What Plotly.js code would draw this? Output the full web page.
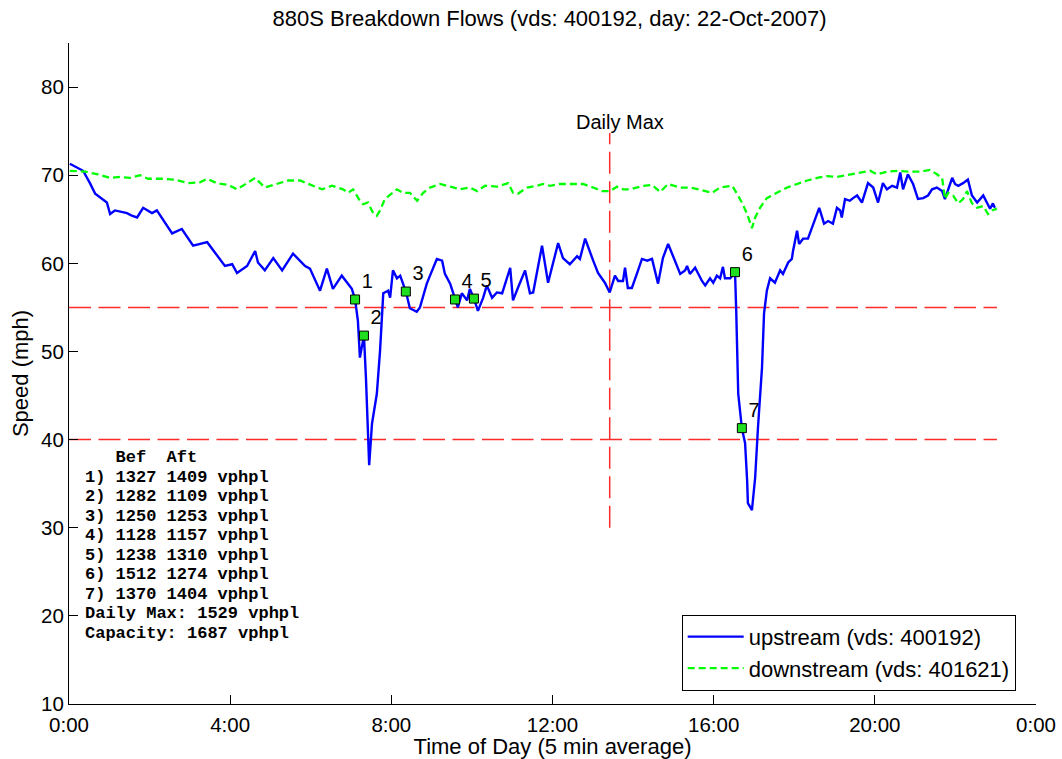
<!DOCTYPE html>
<html>
<head>
<meta charset="utf-8">
<script src="https://cdn.plot.ly/plotly-3.0.1.min.js"></script>
<style>html,body{margin:0;padding:0;background:#fff;}#chart{width:1062px;height:759px;}</style>
</head>
<body>
<div id="chart"></div>
<script>
// ---- data (hours of day, speed in mph) ----
const upTimes = [0.02,0.35,0.52,0.65,0.94,1.02,1.14,1.44,1.56,1.69,1.84,2.06,2.18,2.38,2.56,2.80,3.08,3.43,3.70,3.87,4.05,4.17,4.42,4.62,4.69,4.86,5.07,5.29,5.56,5.86,5.98,6.23,6.40,6.55,6.77,7.02,7.10,7.17,7.22,7.30,7.32,7.37,7.42,7.45,7.52,7.64,7.72,7.80,7.92,7.97,8.04,8.14,8.22,8.36,8.46,8.63,8.71,8.88,8.96,9.13,9.26,9.33,9.46,9.58,9.65,9.75,9.88,9.95,10.05,10.15,10.28,10.37,10.50,10.62,10.75,10.95,11.02,11.14,11.32,11.44,11.52,11.74,11.89,12.14,12.26,12.43,12.61,12.68,12.81,13.01,13.13,13.30,13.42,13.55,13.63,13.75,13.80,13.87,13.97,14.10,14.22,14.35,14.47,14.62,14.74,14.87,15.04,15.17,15.29,15.34,15.41,15.54,15.71,15.79,15.91,15.99,16.08,16.16,16.23,16.28,16.41,16.53,16.56,16.58,16.61,16.70,16.78,16.83,16.85,16.95,17.03,17.10,17.20,17.25,17.32,17.40,17.52,17.65,17.72,17.85,17.94,17.97,18.07,18.12,18.22,18.34,18.47,18.62,18.74,18.84,18.96,19.06,19.14,19.18,19.26,19.38,19.46,19.56,19.68,19.83,19.96,20.08,20.20,20.30,20.43,20.55,20.63,20.70,20.82,20.95,21.07,21.20,21.32,21.42,21.54,21.67,21.74,21.92,21.99,22.07,22.19,22.31,22.41,22.54,22.69,22.78,22.86,22.93,22.98];
const upSpeeds = [71.3,70.5,69.1,67.9,66.9,65.6,66.0,65.7,65.4,65.2,66.3,65.7,66.0,64.6,63.4,63.9,62.0,62.4,60.8,59.7,59.9,58.9,59.7,61.4,60.1,59.2,60.6,59.2,61.1,59.7,59.4,56.9,59.4,57.1,58.6,57.1,55.9,53.5,49.3,51.0,51.8,47.0,41.4,37.1,41.8,45.2,50.1,56.6,56.9,56.1,59.2,58.3,58.6,56.8,54.9,54.5,55.0,57.7,58.6,60.5,60.3,58.8,57.7,55.9,55.0,56.6,55.8,57.1,56.0,54.6,56.1,57.5,56.1,56.7,56.6,59.5,55.8,57.2,59.2,56.6,56.7,62.0,57.8,62.3,60.6,59.9,60.8,60.5,62.8,60.3,58.9,57.8,56.7,58.6,58.0,58.0,59.5,57.2,57.2,58.9,60.5,60.3,60.5,57.7,60.6,62.2,60.3,58.8,59.2,59.7,58.8,59.5,58.0,57.5,58.3,57.8,58.6,58.3,59.6,58.3,58.3,59.0,54.6,49.8,45.2,41.3,39.6,35.4,32.8,32.0,35.7,41.4,48.2,54.3,56.9,58.3,57.8,59.2,58.8,60.1,60.5,61.4,63.7,62.2,62.8,62.8,64.5,66.3,64.5,64.8,64.5,66.3,66.0,65.2,67.3,67.1,67.4,67.7,66.9,69.1,68.6,66.9,69.1,68.4,68.8,68.6,70.3,68.4,70.1,69.0,67.3,67.4,67.7,68.4,68.6,68.2,67.3,69.7,69.0,68.8,69.1,69.5,67.7,66.9,67.7,66.9,66.2,66.8,66.3];

const downTimes = [0.02,0.40,0.72,1.02,1.27,1.51,1.76,1.96,2.31,2.63,2.95,3.25,3.43,3.67,3.95,4.17,4.42,4.62,4.86,5.16,5.44,5.73,6.03,6.28,6.53,6.80,6.93,7.05,7.22,7.30,7.42,7.55,7.64,7.72,7.84,8.02,8.14,8.29,8.46,8.64,8.79,8.96,9.21,9.46,9.70,9.95,10.13,10.33,10.62,10.90,11.02,11.14,11.37,11.62,11.77,11.94,12.19,12.43,12.76,13.01,13.23,13.43,13.60,13.75,13.92,14.25,14.47,14.67,14.87,15.17,15.41,15.71,15.96,16.16,16.46,16.58,16.70,16.83,16.95,17.03,17.15,17.32,17.57,17.82,18.07,18.32,18.57,18.81,19.06,19.38,19.63,19.88,20.05,20.30,20.58,20.87,21.12,21.37,21.54,21.67,21.74,21.82,21.94,22.07,22.19,22.29,22.41,22.54,22.69,22.81,22.91,23.03];
const downSpeeds = [70.5,70.4,70.1,69.7,69.8,69.7,70.0,69.6,69.6,69.5,69.1,69.2,69.6,69.1,68.9,68.4,69.1,69.7,68.6,69.0,69.4,69.4,68.9,68.4,68.8,68.4,68.0,68.4,67.1,66.7,66.9,65.7,65.4,66.0,67.3,68.0,68.4,68.0,68.0,67.1,68.0,68.6,69.0,68.7,68.4,68.6,68.2,68.8,68.7,69.1,68.0,67.9,68.6,68.8,69.0,68.8,69.0,69.0,69.0,68.6,68.2,68.2,68.7,68.4,68.4,68.8,68.9,68.1,69.0,68.6,68.6,68.3,68.0,68.6,68.8,67.9,66.9,65.6,64.0,65.2,66.3,67.4,68.0,68.6,69.0,69.4,69.7,69.9,69.8,70.1,70.3,70.5,70.1,70.4,70.5,70.4,70.4,70.6,70.1,69.7,67.3,68.0,67.7,66.8,67.3,68.2,66.8,66.3,66.5,65.6,66.0,66.2];

const breakTimes  = [7.10, 7.32, 8.36, 9.58, 10.05, 16.53, 16.70];
const breakSpeeds = [55.9, 51.8, 56.8, 55.9, 56.0, 59.0, 41.3];
const breakLabels = ['1','2','3','4','5','6','7'];

const thresholdSpeeds = [55, 40];
const thresholdSpan = [0, 23.03];
const dailyMaxTime = 13.42;
const dailyMaxSpan = [30, 74.8];

const tickHours = [0, 4, 8, 12, 16, 20, 24];
const tickLabels = ['0:00', '4:00', '8:00', '12:00', '16:00', '20:00', '0:00'];
const speedTicks = [10, 20, 30, 40, 50, 60, 70, 80];

const flowLines = [
  '   Bef  Aft',
  '1) 1327 1409 vphpl',
  '2) 1282 1109 vphpl',
  '3) 1250 1253 vphpl',
  '4) 1128 1157 vphpl',
  '5) 1238 1310 vphpl',
  '6) 1512 1274 vphpl',
  '7) 1370 1404 vphpl',
  'Daily Max: 1529 vphpl',
  'Capacity: 1687 vphpl'
];

// ---- traces ----
const SANS = 'Liberation Sans, Arial, Helvetica, sans-serif';
const RED = '#ff2a2a';
const traces = [];
thresholdSpeeds.forEach(s => {
  traces.push({
    x: thresholdSpan, y: [s, s], type: 'scatter', mode: 'lines',
    line: {color: RED, width: 1.5, dash: '22px,7.5px'},
    showlegend: false, hoverinfo: 'skip'
  });
});
traces.push({
  x: [dailyMaxTime, dailyMaxTime], y: dailyMaxSpan, type: 'scatter', mode: 'lines',
  line: {color: RED, width: 1.5, dash: '22px,7.5px'},
  showlegend: false, hoverinfo: 'skip'
});
traces.push({
  x: upTimes, y: upSpeeds, type: 'scatter', mode: 'lines',
  name: 'upstream (vds: 400192)',
  line: {color: '#0000ff', width: 2.4}
});
traces.push({
  x: downTimes, y: downSpeeds, type: 'scatter', mode: 'lines',
  name: 'downstream (vds: 401621)',
  line: {color: '#00ff00', width: 2.3, dash: '7px,4px'}
});
traces.push({
  x: breakTimes, y: breakSpeeds, type: 'scatter', mode: 'markers+text',
  text: breakLabels, textposition: 'top right',
  textfont: {family: SANS, size: 20, color: '#000'},
  marker: {symbol: 'square', size: 9, color: '#1ee01e', line: {color: '#000', width: 1}},
  showlegend: false, hoverinfo: 'skip', cliponaxis: false
});

// ---- annotations ----
const annotations = [];
annotations.push({
  x: dailyMaxTime, y: dailyMaxSpan[1], xref: 'x', yref: 'y',
  text: 'Daily Max', showarrow: false, xanchor: 'center', yanchor: 'bottom',
  xshift: 10, yshift: -2,
  font: {family: SANS, size: 20, color: '#000'}
});
const plotTop = 43, plotBottom = 704, plotH = plotBottom - plotTop;
annotations.push({
  x: 0.0155, y: (plotBottom - 447) / plotH, xref: 'paper', yref: 'paper',
  text: flowLines.map(t => '<span style="font-size:17px">' + t.replace(/ /g, '&nbsp;') + '</span>').join('<br>'),
  showarrow: false, xanchor: 'left', yanchor: 'top', align: 'left',
  borderpad: 0,
  font: {family: 'Liberation Mono, Courier New, monospace', size: 15, color: '#000', weight: 'bold'}
});

const layout = {
  width: 1062, height: 759,
  margin: {l: 69, r: 26, t: 43, b: 55},
  paper_bgcolor: '#fff', plot_bgcolor: '#fff',
  font: {family: SANS, size: 20, color: '#000'},
  title: {text: '880S Breakdown Flows (vds: 400192, day: 22-Oct-2007)', x: 0.497, xref: 'paper', y: 0.976, yanchor: 'middle',
          font: {family: SANS, size: 22, color: '#000'}},
  xaxis: {
    range: [0, 24], tickvals: tickHours, ticktext: tickLabels,
    showline: true, linecolor: '#000', linewidth: 1, mirror: false,
    ticks: 'inside', ticklen: 9, tickcolor: '#000', tickwidth: 1,
    showgrid: false, zeroline: false,
    tickfont: {family: SANS, size: 20.5, color: '#000'},
    ticklabelstandoff: 2,
    title: {text: 'Time of Day (5 min average)', font: {family: SANS, size: 22, color: '#000'}, standoff: 0}
  },
  yaxis: {
    range: [10, 85], tickvals: speedTicks,
    showline: true, linecolor: '#000', linewidth: 1, mirror: false,
    ticks: 'inside', ticklen: 9, tickcolor: '#000', tickwidth: 1,
    showgrid: false, zeroline: false,
    tickfont: {family: SANS, size: 20.5, color: '#000'},
    title: {text: 'Speed (mph)', font: {family: SANS, size: 22, color: '#000'}, standoff: 6}
  },
  legend: {
    x: 0.979, y: 0.02, xanchor: 'right', yanchor: 'bottom',
    bgcolor: '#fff', bordercolor: '#000', borderwidth: 1,
    font: {family: SANS, size: 22, color: '#000'},
    itemwidth: 56, tracegroupgap: 0
  },
  annotations: annotations,
  showlegend: true
};

Plotly.newPlot('chart', traces, layout, {displayModeBar: false, staticPlot: true});
</script>
</body>
</html>
